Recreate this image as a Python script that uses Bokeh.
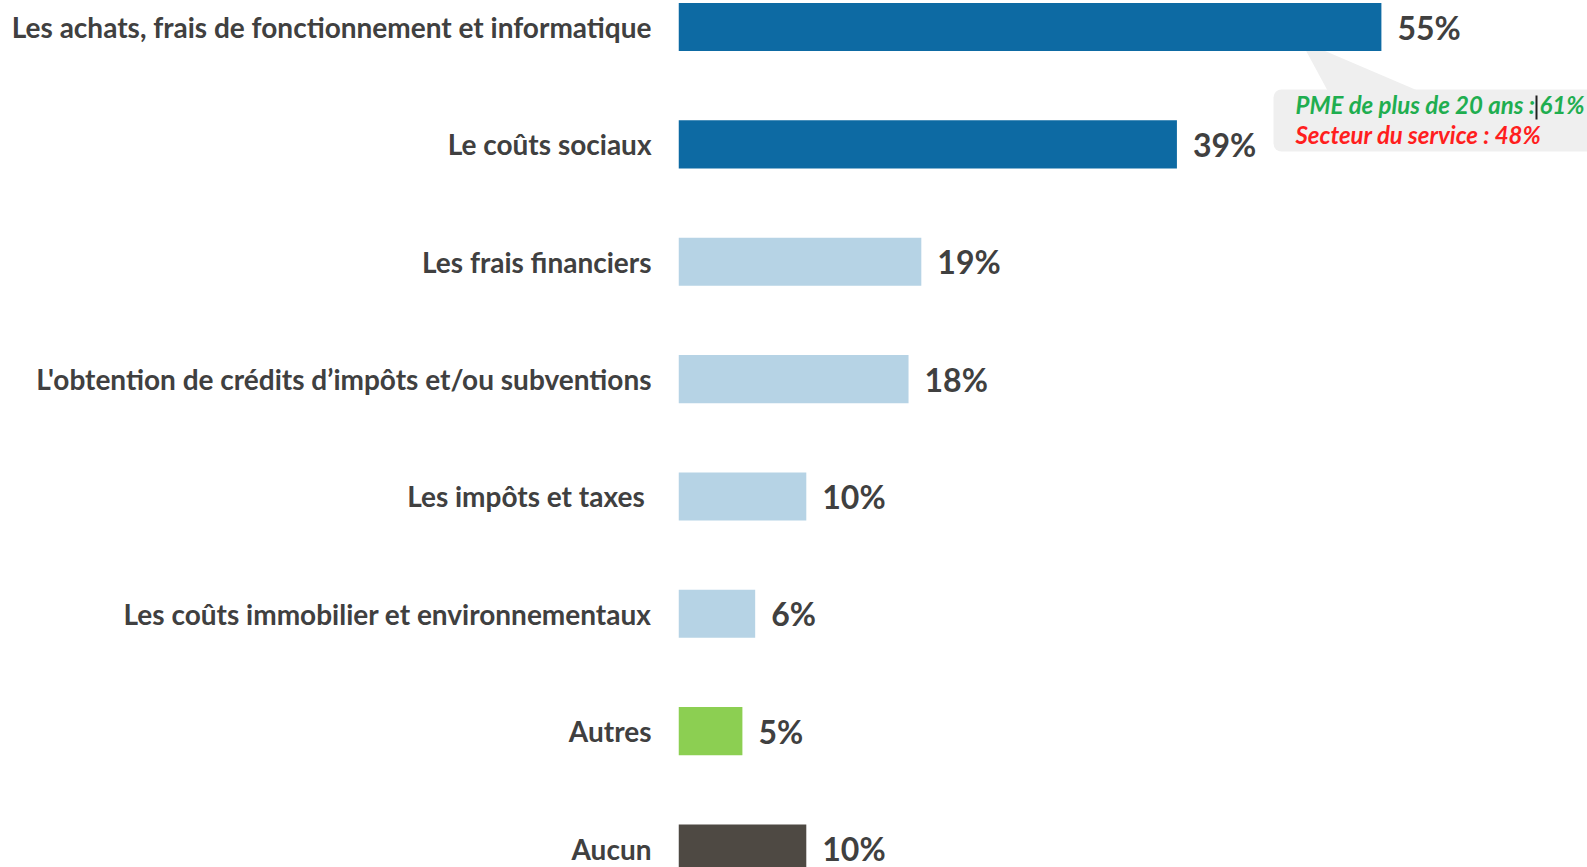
from bokeh.plotting import figure
from bokeh.models import Range1d, FixedTicker, ColumnDataSource, BoxAnnotation, PolyAnnotation, Label
from bokeh.core.properties import value
from bokeh.embed import file_html
from bokeh.resources import INLINE

# ---------------- data ----------------
categories = [
    "Les achats, frais de fonctionnement et informatique",
    "Le coûts sociaux",
    "Les frais financiers",
    "L'obtention de crédits d’impôts et/ou subventions",
    "Les impôts et taxes ",
    "Les coûts immobilier et environnementaux",
    "Autres",
    "Aucun",
]
values = [55, 39, 19, 18, 10, 6, 5, 10]
bar_colors = ["#0d6aa3", "#0d6aa3", "#b6d3e5", "#b6d3e5", "#b6d3e5", "#b6d3e5", "#8ccf52", "#4e4943"]
value_labels = [f"{v}%" for v in values]

callout_line1_a = "PME de plus de 20 ans :"
callout_line1_b = "61%"
callout_line2 = "Secteur du service : 48%"
callout_green = "#1fae50"
callout_red = "#ff1e1e"

# ---------------- layout ----------------
W, H = 1587, 867
LEFT = 678            # frame left edge (px)
PX_PER_PCT = 12.78    # px per percent
ROW = 117.36          # px per category
FIRST = 26.5          # centre of first row (px)

def px_x(px):
    return (px - LEFT) / PX_PER_PCT

def px_y(py):
    return (py - FIRST) / ROW

y_idx = list(range(len(categories)))
src = ColumnDataSource(dict(y=y_idx, v=values, color=bar_colors, label=value_labels))

p = figure(width=W, height=H, output_backend="svg", toolbar_location=None,
           x_range=Range1d(0, px_x(W)),
           y_range=Range1d(px_y(H), px_y(0)),
           x_axis_location=None,
           min_border_left=LEFT, min_border_right=0, min_border_top=0, min_border_bottom=0)
p.grid.visible = False
p.outline_line_color = None
p.background_fill_color = "white"
p.border_fill_color = "white"

ax = p.yaxis[0]
ax.ticker = FixedTicker(ticks=y_idx)
ax.major_label_overrides = {i: c for i, c in enumerate(categories)}
ax.axis_line_color = None
ax.major_tick_line_color = None
ax.minor_tick_line_color = None
ax.major_tick_out = 0
ax.major_tick_in = 0
ax.major_label_standoff = 27
ax.major_label_text_font = "Lato"
ax.major_label_text_font_style = "bold"
ax.major_label_text_font_size = "28px"
ax.major_label_text_color = "#404040"

# callout (under bars)
p.add_layout(PolyAnnotation(xs=[px_x(1300), px_x(1327), px_x(1417)],
                            ys=[px_y(40), px_y(90), px_y(90)],
                            fill_color="#efefef", fill_alpha=1, line_color=None, level="underlay"))
p.add_layout(BoxAnnotation(left=px_x(1273), right=px_x(1620), top=px_y(89), bottom=px_y(151),
                           fill_color="#efefef", fill_alpha=1, line_color=None,
                           border_radius=8, level="underlay"))

p.hbar(y="y", left=0, right="v", height=0.41, fill_color="color", line_color=None, source=src)
p.text(x="v", y="y", text="label", x_offset=16, text_align="left", text_baseline="middle",
       text_font=value("Lato"), text_font_style="bold", text_font_size="32px",
       text_color="#404040", source=src)

p.add_layout(Label(x=px_x(1295), y=px_y(104), text=callout_line1_a, text_font="Lato",
                   text_font_style="bold italic", text_font_size="24px", text_color=callout_green,
                   text_baseline="middle", text_align="left"))
p.add_layout(Label(x=px_x(1539), y=px_y(104), text=callout_line1_b, text_font="Lato",
                   text_font_style="bold italic", text_font_size="24px", text_color=callout_green,
                   text_baseline="middle", text_align="left"))
p.add_layout(BoxAnnotation(left=px_x(1535), right=px_x(1537), top=px_y(95), bottom=px_y(119),
                           fill_color="#222222", fill_alpha=1, line_color=None))
p.add_layout(Label(x=px_x(1295), y=px_y(134), text=callout_line2, text_font="Lato",
                   text_font_style="bold italic", text_font_size="24px", text_color=callout_red,
                   text_baseline="middle", text_align="left"))

open("out.html", "w").write(file_html(p, INLINE))
